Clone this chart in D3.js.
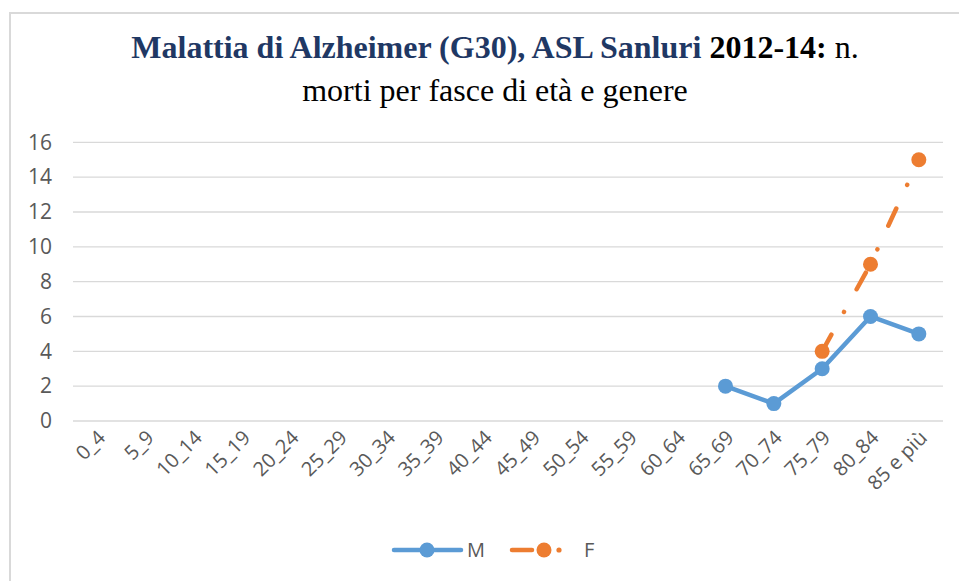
<!DOCTYPE html>
<html><head><meta charset="utf-8">
<script src="https://cdn.jsdelivr.net/npm/d3@7"></script>
<style>body{margin:0;background:#fff}svg{display:block}</style>
</head><body><svg id="c" width="959" height="581"></svg>
<script>
const categories = ["0_4","5_9","10_14","15_19","20_24","25_29","30_34","35_39","40_44","45_49","50_54","55_59","60_64","65_69","70_74","75_79","80_84","85 e più"];
const maleValues = [null,null,null,null,null,null,null,null,null,null,null,null,null,2,1,3,6,5];
const femaleValues = [null,null,null,null,null,null,null,null,null,null,null,null,null,null,null,4,9,15];
const yTicks = [0,2,4,6,8,10,12,14,16];
const seriesNames = ["M","F"];

(function(){
const svg = d3.select("#c");
const W = 959, H = 581;
// frame
svg.append("rect").attr("x",10).attr("y",13).attr("width",W+10).attr("height",H+10)
  .attr("fill","#fff").attr("stroke","#d9d9d9").attr("stroke-width",2);

// title
const title = svg.append("text").attr("x",495).attr("y",58).attr("text-anchor","middle")
  .style("font-family","'Liberation Serif','Times New Roman',serif").style("font-size","32px");
title.append("tspan").attr("font-weight","bold").attr("fill","#1F3864").text("Malattia di Alzheimer (G30), ASL Sanluri ");
title.append("tspan").attr("font-weight","bold").attr("fill","#000").text("2012-14:");
title.append("tspan").attr("fill","#000").text(" n.");
svg.append("text").attr("x",495).attr("y",101).attr("text-anchor","middle")
  .style("font-family","'Liberation Serif','Times New Roman',serif").style("font-size","32px")
  .attr("fill","#000").text("morti per fasce di età e genere");

const pl = 73, pr = 943, pt = 142.3, pb = 421;
const x = d3.scalePoint().domain(categories).range([pl, pr]).padding(0.5);
const y = d3.scaleLinear().domain([0,16]).range([pb, pt]);

// gridlines
svg.append("g").selectAll("line").data(yTicks).join("line")
  .attr("x1",pl).attr("x2",pr).attr("y1",d=>y(d)).attr("y2",d=>y(d))
  .attr("stroke","#d9d9d9").attr("stroke-width",1.3);

// y axis
const yAxis = svg.append("g").attr("transform",`translate(${pl},0)`)
  .call(d3.axisLeft(y).tickValues(yTicks).tickSize(0).tickPadding(21));
yAxis.select(".domain").remove();
yAxis.selectAll("text").style("font-family","'Open Sans',sans-serif").style("font-size","21px").attr("fill","#595959");

// x axis
const xAxis = svg.append("g").attr("transform",`translate(0,${pb})`)
  .call(d3.axisBottom(x).tickSize(0).tickPadding(0));
xAxis.select(".domain").remove();
xAxis.selectAll("text").style("font-family","'Open Sans',sans-serif").style("font-size","20px").attr("fill","#595959")
  .attr("text-anchor","end").attr("dy",0)
  .attr("transform","translate(9,18) rotate(-45)");

const blue = "#5B9BD5", orange = "#ED7D31";
const line = d3.line().defined(d=>d.v!=null).x(d=>x(d.c)).y(d=>y(d.v));
const mData = categories.map((c,i)=>({c,v:maleValues[i]}));
const fData = categories.map((c,i)=>({c,v:femaleValues[i]}));

svg.append("path").datum(mData).attr("d",line).attr("fill","none").attr("stroke",blue)
  .attr("stroke-width",4.5).attr("stroke-linejoin","round").attr("stroke-linecap","round");
svg.append("g").selectAll("circle").data(mData.filter(d=>d.v!=null)).join("circle")
  .attr("cx",d=>x(d.c)).attr("cy",d=>y(d.v)).attr("r",7.5).attr("fill",blue);

svg.append("path").datum(fData).attr("d",line).attr("fill","none").attr("stroke",orange)
  .attr("stroke-width",4.5).attr("stroke-linecap","round").attr("stroke-dasharray","19,26,0.01,26");
svg.append("g").selectAll("circle").data(fData.filter(d=>d.v!=null)).join("circle")
  .attr("cx",d=>x(d.c)).attr("cy",d=>y(d.v)).attr("r",7.5).attr("fill",orange);

// legend
const lg = svg.append("g");
lg.append("line").attr("x1",394).attr("x2",461).attr("y1",550).attr("y2",550).attr("stroke",blue).attr("stroke-width",4.5).attr("stroke-linecap","round");
lg.append("circle").attr("cx",427).attr("cy",550).attr("r",7.5).attr("fill",blue);
lg.append("text").attr("x",467).attr("y",557).text(seriesNames[0]).style("font-family","'Open Sans',sans-serif").style("font-size","20px").attr("fill","#595959");
lg.append("line").attr("x1",512).attr("x2",532).attr("y1",550).attr("y2",550).attr("stroke",orange).attr("stroke-width",4.5).attr("stroke-linecap","round");
lg.append("circle").attr("cx",544).attr("cy",550).attr("r",7.5).attr("fill",orange);
lg.append("circle").attr("cx",559).attr("cy",550).attr("r",2.6).attr("fill",orange);
lg.append("text").attr("x",584).attr("y",557).text(seriesNames[1]).style("font-family","'Open Sans',sans-serif").style("font-size","20px").attr("fill","#595959");
})();
</script></body></html>
